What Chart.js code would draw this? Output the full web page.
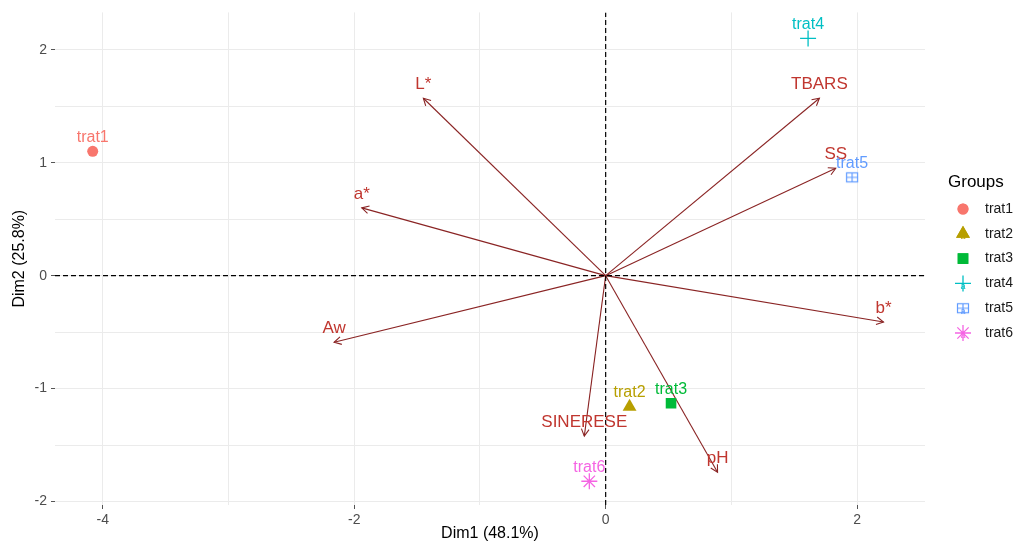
<!DOCTYPE html>
<html>
<head>
<meta charset="utf-8">
<script src="https://cdn.jsdelivr.net/npm/chart.js@4"></script>
<style>
  body { margin: 0; background: #fff; }
</style>
</head>
<body>
<canvas id="biplot" width="1014" height="543"></canvas>
<script>
// variables (arrows)
const varNames = ["L*", "a*", "Aw", "SINERESE", "pH", "b*", "SS", "TBARS"];
const varDim1 = [-1.45, -1.94, -2.16, -0.17, 0.89, 2.21, 1.83, 1.70];
const varDim2 = [1.57, 0.60, -0.59, -1.42, -1.74, -0.41, 0.95, 1.57];

// individuals / groups
const groups = ["trat1", "trat2", "trat3", "trat4", "trat5", "trat6"];
const indDim1 = [-4.08, 0.19, 0.52, 1.61, 1.96, -0.13];
const indDim2 = [1.10, -1.16, -1.13, 2.10, 0.87, -1.82];
const groupColors = ["#F8766D", "#B79F00", "#00BA38", "#00BFC4", "#619CFF", "#F564E3"];

const xTitle = "Dim1 (48.1%)";
const yTitle = "Dim2 (25.8%)";
const xRange = [-4.38, 2.54];
const yRange = [-2.03, 2.33];

const arrowColor = "#8A2424";
const varLabelColor = "#C0362F";
const FONT = "'Liberation Sans', Arial, sans-serif";

// square with a plus inside (ggplot shape 12)
function squarePlus(color) {
  const c = document.createElement("canvas");
  c.width = 14;
  c.height = 14;
  const g = c.getContext("2d");
  g.strokeStyle = color;
  g.lineWidth = 1.2;
  g.strokeRect(1.5, 2.5, 11, 9);
  g.beginPath();
  g.moveTo(7, 2.5);
  g.lineTo(7, 11.5);
  g.moveTo(1.5, 7);
  g.lineTo(12.5, 7);
  g.stroke();
  return c;
}

const groupStyles = [
  { pointStyle: "circle", radius: 5.5, fill: true },
  { pointStyle: "triangle", radius: 8, fill: true },
  { pointStyle: "rect", radius: 7.5, fill: true },
  { pointStyle: "cross", radius: 8, fill: false },
  { pointStyle: squarePlus(groupColors[4]), radius: 7, fill: false },
  { pointStyle: "star", radius: 8, fill: false },
];

const datasets = [];

// dashed zero lines
datasets.push({
  type: "line",
  data: [{ x: xRange[0], y: 0 }, { x: xRange[1], y: 0 }],
  borderColor: "#000",
  borderWidth: 1.2,
  borderDash: [5, 3],
  pointRadius: 0,
});
datasets.push({
  type: "line",
  data: [{ x: 0, y: yRange[0] }, { x: 0, y: yRange[1] }],
  borderColor: "#000",
  borderWidth: 1.2,
  borderDash: [5, 3],
  pointRadius: 0,
});

// individuals
groups.forEach((g, i) => {
  const st = groupStyles[i];
  datasets.push({
    type: "scatter",
    label: g,
    data: [{ x: indDim1[i], y: indDim2[i] }],
    pointStyle: st.pointStyle,
    pointRadius: st.radius,
    pointBorderWidth: st.fill ? 0 : 1.3,
    backgroundColor: st.fill ? groupColors[i] : "transparent",
    borderColor: groupColors[i],
  });
});

// variable arrows (shafts)
varNames.forEach((v, i) => {
  datasets.push({
    type: "line",
    label: v,
    data: [{ x: 0, y: 0 }, { x: varDim1[i], y: varDim2[i] }],
    borderColor: arrowColor,
    borderWidth: 1.1,
    pointRadius: 0,
  });
});

const biplotExtras = {
  id: "biplotExtras",
  afterDatasetsDraw(chart) {
    const { ctx, scales: { x, y } } = chart;
    ctx.save();
    const x0 = x.getPixelForValue(0);
    const y0 = y.getPixelForValue(0);

    // arrow heads + labels
    varNames.forEach((name, i) => {
      const x1 = x.getPixelForValue(varDim1[i]);
      const y1 = y.getPixelForValue(varDim2[i]);
      const ang = Math.atan2(y1 - y0, x1 - x0);
      const len = 8;
      ctx.strokeStyle = arrowColor;
      ctx.lineWidth = 1.1;
      ctx.beginPath();
      ctx.moveTo(x1 - len * Math.cos(ang - 0.5), y1 - len * Math.sin(ang - 0.5));
      ctx.lineTo(x1, y1);
      ctx.lineTo(x1 - len * Math.cos(ang + 0.5), y1 - len * Math.sin(ang + 0.5));
      ctx.stroke();

      ctx.fillStyle = varLabelColor;
      ctx.font = "17px " + FONT;
      ctx.textAlign = "center";
      ctx.textBaseline = "middle";
      ctx.fillText(name, x1, y1 - 14);
    });

    // individual labels
    groups.forEach((g, i) => {
      ctx.fillStyle = groupColors[i];
      ctx.font = "16px " + FONT;
      ctx.textAlign = "center";
      ctx.textBaseline = "middle";
      ctx.fillText(g, x.getPixelForValue(indDim1[i]), y.getPixelForValue(indDim2[i]) - 14);
    });

    // legend
    ctx.fillStyle = "#000";
    ctx.font = "17px " + FONT;
    ctx.textAlign = "left";
    ctx.textBaseline = "middle";
    ctx.fillText("Groups", 948, 182);
    groups.forEach((g, i) => {
      const ly = 209 + i * 24.8;
      const st = groupStyles[i];
      ctx.fillStyle = groupColors[i];
      ctx.strokeStyle = groupColors[i];
      ctx.lineWidth = st.fill ? 0 : 1.3;
      Chart.helpers.drawPoint(ctx, {
        pointStyle: st.pointStyle,
        radius: st.radius,
        rotation: 0,
        borderWidth: st.fill ? 0 : 1.3,
      }, 963, ly);
      if (st.fill) ctx.fill();
      ctx.font = "9px " + FONT;
      ctx.textAlign = "center";
      ctx.fillText("a", 963, ly + 3);
      ctx.fillStyle = "#1A1A1A";
      ctx.font = "14px " + FONT;
      ctx.textAlign = "left";
      ctx.fillText(g, 985, ly);
    });
    ctx.restore();
  },
};

new Chart(document.getElementById("biplot"), {
  data: { datasets: datasets },
  options: {
    responsive: false,
    animation: false,
    devicePixelRatio: 1,
    layout: {
      padding: { top: 12, right: 89, bottom: 0, left: 0 },
    },
    scales: {
      x: {
        type: "linear",
        min: xRange[0],
        max: xRange[1],
        afterFit: (scale) => { scale.height = 38; },
        border: { display: false },
        grid: {
          color: "#EBEBEB",
          lineWidth: 1,
          tickLength: 4,
          tickColor: (ctx) => (ctx.tick && ctx.tick.value % 2 === 0 ? "#555" : "transparent"),
        },
        ticks: {
          stepSize: 1,
          includeBounds: false,
          maxRotation: 0,
          autoSkip: false,
          padding: 3,
          color: "#4D4D4D",
          font: { family: FONT, size: 14 },
          callback: (v) => (v % 2 === 0 ? v : ""),
        },
        title: {
          display: true,
          text: xTitle,
          color: "#000",
          font: { family: FONT, size: 16 },
          padding: { top: 0, bottom: 0 },
        },
      },
      y: {
        type: "linear",
        min: yRange[0],
        max: yRange[1],
        afterFit: (scale) => { scale.width = 55; },
        border: { display: false },
        grid: {
          color: "#EBEBEB",
          lineWidth: 1,
          tickLength: 4,
          tickColor: (ctx) => (ctx.tick && ctx.tick.value % 1 === 0 ? "#555" : "transparent"),
        },
        ticks: {
          stepSize: 0.5,
          includeBounds: false,
          autoSkip: false,
          padding: 4,
          color: "#4D4D4D",
          font: { family: FONT, size: 14 },
          callback: (v) => (v % 1 === 0 ? v : ""),
        },
        title: {
          display: true,
          text: yTitle,
          color: "#000",
          font: { family: FONT, size: 16 },
          padding: { top: 10, bottom: 0 },
        },
      },
    },
    plugins: {
      legend: { display: false },
      tooltip: { enabled: false },
    },
  },
  plugins: [biplotExtras],
});
</script>
</body>
</html>
